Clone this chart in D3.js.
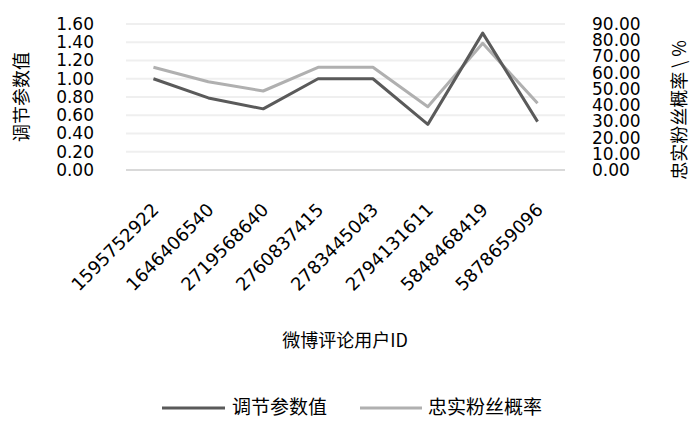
<!DOCTYPE html>
<html><head><meta charset="utf-8">
<script src="https://cdn.jsdelivr.net/npm/d3@7"></script>
<style>body{margin:0;background:#fff}svg{display:block}</style>
</head><body><svg id="c" width="690" height="423"></svg>
<script>
const categories = ["1595752922","1646406540","2719568640","2760837415","2783445043","2794131611","5848468419","5878659096"];
const adjustValues = [1.00, 0.79, 0.67, 1.00, 1.00, 0.50, 1.50, 0.53];
const loyalRates = [63.3, 54.4, 48.7, 63.3, 63.3, 39.0, 78.1, 41.1];
const leftTicks = [0,0.2,0.4,0.6,0.8,1.0,1.2,1.4,1.6];
const rightTicks = [0,10,20,30,40,50,60,70,80,90];
const seriesNames = ["调节参数值","忠实粉丝概率"];
const leftTitle = "调节参数值";
const rightTitle = "忠实粉丝概率 \\ %";
const xTitle = "微博评论用户ID";

const svg = d3.select("#c");
const L = 126, R = 565, T = 24, B = 170;
const x = d3.scalePoint().domain(categories).range([L, R]).padding(0.5);
const yL = d3.scaleLinear().domain([0, 1.6]).range([B, T]);
const yR = d3.scaleLinear().domain([0, 90]).range([B, T]);
const numFont = "'DejaVu Sans', sans-serif";
const cjk = "'Noto Sans CJK SC', sans-serif";

// gridlines
svg.append("g").selectAll("line").data(leftTicks).join("line")
  .attr("x1", L).attr("x2", R)
  .attr("y1", d => yL(d)).attr("y2", d => yL(d))
  .attr("stroke", d => d === 0 ? "#d9d9d9" : "#efefef").attr("stroke-width", 2);

// left axis labels
const axL = d3.axisLeft(yL).tickValues(leftTicks).tickFormat(d3.format(".2f")).tickSize(0).tickPadding(0);
const gL = svg.append("g").attr("transform", "translate(94,0)").call(axL);
gL.select(".domain").remove();
gL.selectAll("text").attr("font-family", numFont).attr("font-size", 17).attr("fill", "#000");

const axR = d3.axisRight(yR).tickValues(rightTicks).tickFormat(d3.format(".2f")).tickSize(0).tickPadding(0);
const gR = svg.append("g").attr("transform", "translate(592,0)").call(axR);
gR.select(".domain").remove();
gR.selectAll("text").attr("font-family", numFont).attr("font-size", 17).attr("fill", "#000");

// x axis labels
const axX = d3.axisBottom(x).tickSize(0).tickPadding(0);
const gX = svg.append("g").attr("transform", "translate(0,0)").call(axX);
gX.select(".domain").remove();
gX.selectAll(".tick text")
  .attr("font-family", numFont).attr("font-size", 18).attr("fill", "#000")
  .attr("text-anchor", "end").attr("dy", 0).attr("y", 0)
  .attr("transform", "translate(6,211) rotate(-45)");

// lines
const lineL = d3.line().x((d, i) => x(categories[i])).y(d => yL(d));
const lineR = d3.line().x((d, i) => x(categories[i])).y(d => yR(d));
svg.append("path").datum(loyalRates).attr("d", lineR).attr("fill", "none")
  .attr("stroke", "#b0b0b0").attr("stroke-width", 3).attr("stroke-linejoin", "round");
svg.append("path").datum(adjustValues).attr("d", lineL).attr("fill", "none")
  .attr("stroke", "#5a5a5a").attr("stroke-width", 3).attr("stroke-linejoin", "round");

// axis titles
svg.append("text").attr("transform", "translate(28,97) rotate(-90)")
  .attr("text-anchor", "middle").attr("font-family", cjk).attr("font-size", 18).text(leftTitle);
svg.append("text").attr("transform", "translate(686,110) rotate(-90)")
  .attr("text-anchor", "middle").attr("font-family", cjk).attr("font-size", 18).text(rightTitle);
svg.append("text").attr("x", 345).attr("y", 347)
  .attr("text-anchor", "middle").attr("font-family", cjk).attr("font-size", 18).text(xTitle);

// legend
const leg = [{n: seriesNames[0], c: "#5a5a5a", x1: 162, x2: 225, tx: 232},
             {n: seriesNames[1], c: "#b0b0b0", x1: 360, x2: 422, tx: 428}];
const lg = svg.append("g");
leg.forEach(d => {
  lg.append("line").attr("x1", d.x1).attr("x2", d.x2).attr("y1", 408).attr("y2", 408)
    .attr("stroke", d.c).attr("stroke-width", 3);
  lg.append("text").attr("x", d.tx).attr("y", 414).attr("font-family", cjk).attr("font-size", 19).text(d.n);
});
</script></body></html>
